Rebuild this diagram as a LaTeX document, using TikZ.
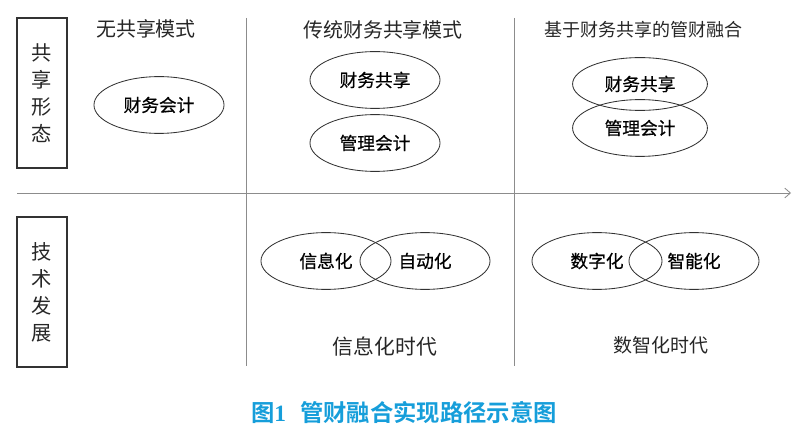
\documentclass[tikz,border=0pt]{standalone}
\usepackage{fontspec}
\setmainfont{Noto Sans CJK SC}
\newfontfamily\cjkmed[FakeBold=0.6]{Noto Sans CJK SC}
\newfontfamily\cjkbold{Noto Sans CJK SC Bold}
\newfontfamily\capnum{Liberation Serif}
\usetikzlibrary{shapes.geometric, arrows.meta}
\definecolor{capblue}{RGB}{22,158,218}
\definecolor{gridgray}{RGB}{140,140,140}
\definecolor{inkgray}{RGB}{50,50,50}
\begin{document}
\begin{tikzpicture}[x=0.025cm, y=-0.025cm,
  sidebox/.style={draw=inkgray, thick, align=center, inner sep=0pt, minimum width=1.25cm, minimum height=3.75cm, font=\fontsize{14.4}{19.2}\selectfont, text=black!85},
  head/.style={font=\fontsize{14.2}{16}\selectfont, text=black!85, inner sep=0pt},
  era/.style={font=\fontsize{14.8}{16}\selectfont, text=black!85, inner sep=0pt},
  oval/.style={ellipse, draw=inkgray, semithick, inner sep=0pt, minimum width=3.25cm, minimum height=1.42cm, font=\cjkmed\fontsize{12.6}{14}\selectfont},
  grid/.style={draw=gridgray, semithick},
  arrow/.style={-{Straight Barb[length=4pt, width=7pt]}, semithick, draw=gridgray}
]
\useasboundingbox (0,0) rectangle (800,438);

% row labels
\node[sidebox] (share) at (42,93) {共\\享\\形\\态};
\node[sidebox] (tech) at (42,292) {技\\术\\发\\展};

% axis and column dividers
\coordinate (axisl) at (17,193);
\coordinate (axisr) at (791,193);
\coordinate (divatop) at (246,18);
\coordinate (divabot) at (246,366);
\coordinate (divbtop) at (514,18);
\coordinate (divbbot) at (514,366);
\draw[arrow] (axisl) -- (axisr);
\draw[grid] (divatop) -- (divabot);
\draw[grid] (divbtop) -- (divbbot);

% column heads
\node[head] (hnone) at (146,29) {无共享模式};
\node[head] (htrad) at (383,30) {传统财务共享模式};
\node[head, font=\fontsize{12.8}{15}\selectfont] (hfuse) at (643,30) {基于财务共享的管财融合};

% sharing forms
\node[oval] (finacc) at (159,105) {财务会计};
\node[oval] (tradshare) at (375,80) {财务共享};
\node[oval] (tradmgmt) at (375,143) {管理会计};
\node[oval, minimum width=3.37cm, minimum height=1.32cm] (fuseshare) at (640,84) {财务共享};
\node[oval, minimum width=3.37cm] (fusemgmt) at (640,128) {管理会计};

% technology stages
\node[oval] (info) at (326,261) {信息化};
\node[oval] (auto) at (425,261) {自动化};
\node[oval] (digi) at (597,261) {数字化};
\node[oval] (smart) at (694,261) {智能化};

\node[era] (erainfo) at (385,347) {信息化时代};
\node[era, font=\fontsize{13.5}{15}\selectfont] (eradigi) at (661,345) {数智化时代};

% caption
\node[font=\cjkbold\fontsize{16.6}{18}\selectfont, text=capblue, inner sep=0pt] (caption) at (404,413) {图{\capnum\bfseries 1}\hspace{0.6em}管财融合实现路径示意图};
\end{tikzpicture}
\end{document}
